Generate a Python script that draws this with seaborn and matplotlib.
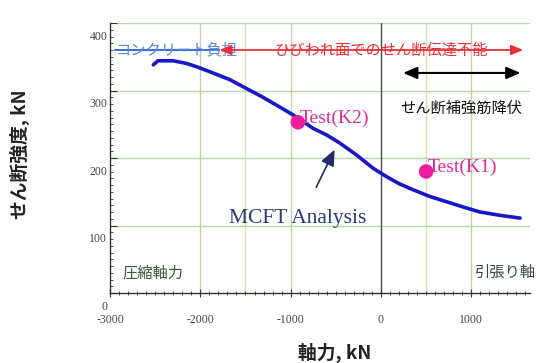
import matplotlib
matplotlib.use("Agg")
import matplotlib.pyplot as plt
import matplotlib.transforms as mtransforms
from matplotlib.ticker import MultipleLocator
import pandas as pd
import seaborn as sns

# MCFT analysis curve (axial force kN, shear strength kN)
curve_x = [-2520, -2470, -2300, -2150, -2037, -1860, -1672, -1490, -1307, -1140, -975,
           -753, -600, -454, -266, -89, 66, 200, 354, 540, 731, 920, 1096, 1320, 1540]
curve_y = [338, 344, 344, 340, 335, 326, 316, 303, 290, 277, 264,
           244, 234, 222, 204, 185, 172, 162, 153, 143, 135, 127, 120, 115, 111]

# test results
test_names = ["Test(K2)", "Test(K1)"]
test_x = [-920, 500]
test_y = [253, 180]

grid_x_main = [-2000, -1000, 1000]
grid_x_half = [-1500, 500]
grid_y = [100, 200, 300, 400]

jp = "Noto Sans CJK JP"
serif = "Liberation Serif"

sns.set_theme(style="white")
plt.rcParams["font.family"] = [jp, "DejaVu Sans"]
plt.rcParams["axes.unicode_minus"] = False

fig = plt.figure(figsize=(5.53, 3.63), dpi=100)
ax = fig.add_axes([110 / 553, 70 / 363, 420 / 553, 270 / 363])

for gx in grid_x_main:
    ax.axvline(gx, color="#bcd6ac", lw=1.0, zorder=0)
for gx in grid_x_half:
    ax.axvline(gx, color="#d8e2b0", lw=1.0, zorder=0)
for gy in grid_y:
    ax.axhline(gy, color="#bcd6ac", lw=1.0, zorder=0)
ax.axvline(0, color="#4a4a4a", lw=1.0, zorder=0)

curve = pd.DataFrame({"x": curve_x, "y": curve_y})
sns.lineplot(data=curve, x="x", y="y", sort=False, color="#1818c8", lw=2.6, ax=ax, zorder=3)

tests = pd.DataFrame({"x": test_x, "y": test_y, "name": test_names})
sns.scatterplot(data=tests, x="x", y="y", color="#ee1c9c", s=110, edgecolor="none",
                ax=ax, zorder=4)
for name, tx, ty in zip(test_names, test_x, test_y):
    ax.text(tx + 15, ty + 6, name, color="#e02a98", fontsize=14, family=serif,
            ha="left", va="center", zorder=3.5)

ax.annotate("", xy=(-500, 216), xytext=(-730, 153),
            arrowprops=dict(arrowstyle="-|>,head_length=0.8,head_width=0.35",
                            color="#1f2d6e", lw=1.2))
ax.text(-919, 111, "MCFT Analysis", color="#2b3875", fontsize=15.5, family=serif,
        ha="center", va="center")

# top annotations
ax.plot([-2950, -1790], [360, 360], color="#3f6fd8", lw=1.5, zorder=2)
ax.text(-2940, 360, "コンクリート負担", color="#5b8ad8", fontsize=11, family=jp,
        ha="left", va="center", zorder=3)
ax.annotate("", xy=(-1790, 360), xytext=(1575, 360),
            arrowprops=dict(arrowstyle="<|-|>,head_length=0.6,head_width=0.25",
                            color="#e8303a", lw=1.3, shrinkA=0, shrinkB=0))
ax.text(0, 360, "ひびわれ面でのせん断伝達不能", color="#e8303a", fontsize=11, family=jp,
        ha="center", va="center")
ax.annotate("", xy=(245, 326), xytext=(1545, 326),
            arrowprops=dict(arrowstyle="<|-|>,head_length=0.7,head_width=0.3",
                            color="black", lw=1.5, shrinkA=0, shrinkB=0))
ax.text(890, 274, "せん断補強筋降伏", color="#111111", fontsize=11, family=jp,
        ha="center", va="center")
ax.text(-2860, 30, "圧縮軸力", color="#3a5a3a", fontsize=11, family=jp,
        ha="left", va="center")
ax.text(1040, 30, "引張り軸", color="#3a4a48", fontsize=11, family=jp,
        ha="left", va="center", clip_on=False)

ax.set_xlim(-3000, 1650)
ax.set_ylim(0, 400)
ax.xaxis.set_major_locator(MultipleLocator(1000))
ax.xaxis.set_minor_locator(MultipleLocator(100))
ax.yaxis.set_major_locator(MultipleLocator(100))
ax.yaxis.set_minor_locator(MultipleLocator(10))
ax.tick_params(axis="x", which="major", direction="inout", length=6, width=0.8,
               colors="#333333", pad=12, labelsize=8.5)
ax.tick_params(axis="x", which="minor", direction="inout", length=3, width=0.6,
               colors="#333333")
ax.tick_params(axis="y", which="major", direction="in", length=5, width=0.8,
               colors="#333333", pad=2, labelsize=8.5)
ax.tick_params(axis="y", which="minor", direction="in", length=2.5, width=0.6,
               colors="#333333")
ax.tick_params(bottom=True, left=True, which="both")
for lab in ax.get_xticklabels() + ax.get_yticklabels():
    lab.set_family(serif)
    lab.set_color("#444444")
shift = mtransforms.ScaledTranslation(0, -0.12, fig.dpi_scale_trans)
for lab in ax.get_yticklabels():
    lab.set_transform(lab.get_transform() + shift)

for side in ["top", "right"]:
    ax.spines[side].set_visible(False)
for side in ["left", "bottom"]:
    ax.spines[side].set_color("#333333")
    ax.spines[side].set_linewidth(1.0)

ax.set_xlabel("")
ax.set_ylabel("")
fig.text(335 / 553, 1 - 353 / 363, "軸力, kN", fontsize=13.5, fontweight="bold",
         family=jp, ha="center", va="center", color="#222222")
fig.text(20 / 553, 1 - 154 / 363, "せん断強度, kN", fontsize=13.5, fontweight="bold",
         family=jp, ha="center", va="center", rotation=90, color="#222222")

fig.savefig("out.png", dpi=100)
